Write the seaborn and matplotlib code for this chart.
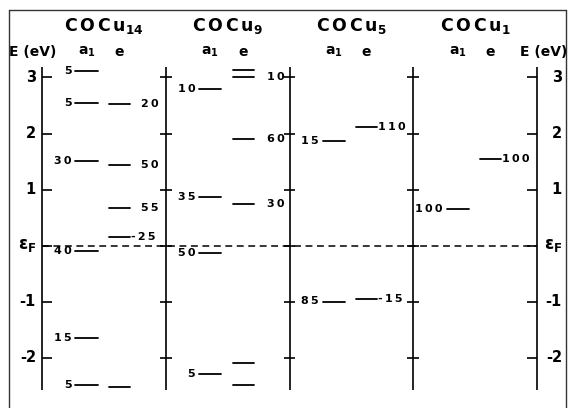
import pandas as pd
import seaborn as sns
import matplotlib.pyplot as plt
from matplotlib.lines import Line2D

# Cluster names (header) and level data (energies in eV, E_F = 0)
clusters = ["C\\,O\\,C\\,u_{14}", "C\\,O\\,C\\,u_{9}", "C\\,O\\,C\\,u_{5}", "C\\,O\\,C\\,u_{1}"]

cu14_a1_E = [3.12, 2.54, 1.51, -0.10, -1.65, -2.49]
cu14_a1_lab = ["5", "5", "30", "40", "15", "5"]
cu14_e_E = [2.52, 1.43, 0.67, 0.16, -2.52]
cu14_e_lab = ["20", "50", "55", "-25", ""]

cu9_a1_E = [2.79, 0.87, -0.14, -2.30]
cu9_a1_lab = ["10", "35", "50", "5"]
cu9_e_E = [3.13, 3.00, 1.90, 0.74, -2.10, -2.49]
cu9_e_lab = ["", "10", "60", "30", "", ""]

cu5_a1_E = [1.87, -1.00]
cu5_a1_lab = ["15", "85"]
cu5_e_E = [2.11, -0.95]
cu5_e_lab = ["110", "-15"]

cu1_a1_E = [0.65]
cu1_a1_lab = ["100"]
cu1_e_E = [1.54]
cu1_e_lab = ["100"]

tick_E = [3, 2, 1, 0, -1, -2]
tick_lab = ["3", "2", "1", r"$\mathbf{\varepsilon_F}$", "-1", "-2"]

a1_sets = [(cu14_a1_E, cu14_a1_lab), (cu9_a1_E, cu9_a1_lab), (cu5_a1_E, cu5_a1_lab), (cu1_a1_E, cu1_a1_lab)]
e_sets = [(cu14_e_E, cu14_e_lab), (cu9_e_E, cu9_e_lab), (cu5_e_E, cu5_e_lab), (cu1_e_E, cu1_e_lab)]

# layout (pixels of a 569x408 picture)
X0, PW = 42, 123.75          # first axis and panel width
Y0, PY = 245.5, 56.0         # E_F row and px per eV
def px(p):
    return p / PW
A1_COL = (0.27, 0.45)
E_COL = (0.54, 0.71)
E_GAP = [11, 13, 1, 1]       # px between e level and its label
E_TOP, E_BOT = 3.19, -2.58

# long table: one row per end of a level line
rows = []
lid = 0
for p in range(4):
    for sym, col, sets in (("a1", A1_COL, a1_sets), ("e", E_COL, e_sets)):
        Es, labs = sets[p]
        for E, lab in zip(Es, labs):
            for xx in col:
                rows.append({"panel": p, "sym": sym, "E": E, "label": lab, "x": p + xx, "lid": lid})
            lid += 1
df = pd.DataFrame(rows)

sns.set_theme(style="white")
plt.rcParams['font.family'] = ['DejaVu Sans']
plt.rcParams['mathtext.fontset'] = 'dejavusans'
plt.rcParams['text.color'] = 'black'

fig = plt.figure(figsize=(5.69, 4.08), dpi=100)
ax = fig.add_axes([0, 0, 1, 1])

sns.lineplot(data=df, x="x", y="E", units="lid", estimator=None, color="black",
             lw=1.3, legend=False, ax=ax)

# level labels, spaced like the typewriter-ish original
def spaced(s):
    return "\u2009".join(s)

first = df.groupby("lid").first()
for _, r in first.iterrows():
    if not r["label"]:
        continue
    if r["sym"] == "a1":
        ax.text(r["panel"] + A1_COL[0] - px(4), r["E"], spaced(r["label"]), ha="right", va="center",
                fontsize=8, fontweight="bold")
    else:
        gap = 1 if r["label"].startswith("-") else E_GAP[int(r["panel"])]
        ax.text(r["panel"] + E_COL[1] + px(gap), r["E"], spaced(r["label"]), ha="left", va="center",
                fontsize=8, fontweight="bold")

# energy axes
ax.vlines(range(5), E_BOT, E_TOP, color="black", lw=1.2)
for E in tick_E:
    ax.hlines(E, 0, px(10), color="black", lw=1.2)
    ax.hlines(E, 4 - px(10), 4, color="black", lw=1.2)
    for p in (1, 2, 3):
        ax.hlines(E, p - px(6), p + px(6), color="black", lw=1.2)

for E, lab in zip(tick_E, tick_lab):
    fs = 12 if E == 0 else 10.5
    ax.text(-px(6), E, lab, ha="right", va="center", fontsize=fs, fontweight="bold")
    ax.text(4 + px(25), E, lab, ha="right", va="center", fontsize=fs, fontweight="bold")

# Fermi level
ax.plot([0, 4], [0, 0], color="black", lw=1.1, ls=(0, (4.5, 3)))

# headers
yh = (Y0 - 26) / PY
ys = (Y0 - 52) / PY
for p, name in enumerate(clusters):
    ax.text(p + 0.5, yh, r"$\mathbf{" + name + "}$", ha="center", va="center", fontsize=12.5)
    ax.text(p + sum(A1_COL) / 2, ys, r"$\mathbf{a_1}$", ha="center", va="center", fontsize=10)
    ax.text(p + sum(E_COL) / 2, ys, r"$\mathbf{e}$", ha="center", va="center", fontsize=10)
ax.text(px(9 - X0), ys, "E (eV)", ha="left", va="center", fontsize=10, fontweight="bold")
ax.text(px(567 - X0), ys, "E (eV)", ha="right", va="center", fontsize=10, fontweight="bold")

ax.set_xlim(px(-X0), px(569 - X0))
ax.set_ylim((Y0 - 408) / PY, Y0 / PY)
ax.set_axis_off()

# outer frame (bottom edge runs off the picture)
L, T, R = 9 / 569, 1 - 10 / 408, 566 / 569
for xs, ys_ in (([L, L], [0, T]), ([L, R], [T, T]), ([R, R], [T, 0])):
    fig.add_artist(Line2D(xs, ys_, transform=fig.transFigure, color="#333333", lw=1.0))

fig.savefig("out.png", dpi=100, facecolor="white")
